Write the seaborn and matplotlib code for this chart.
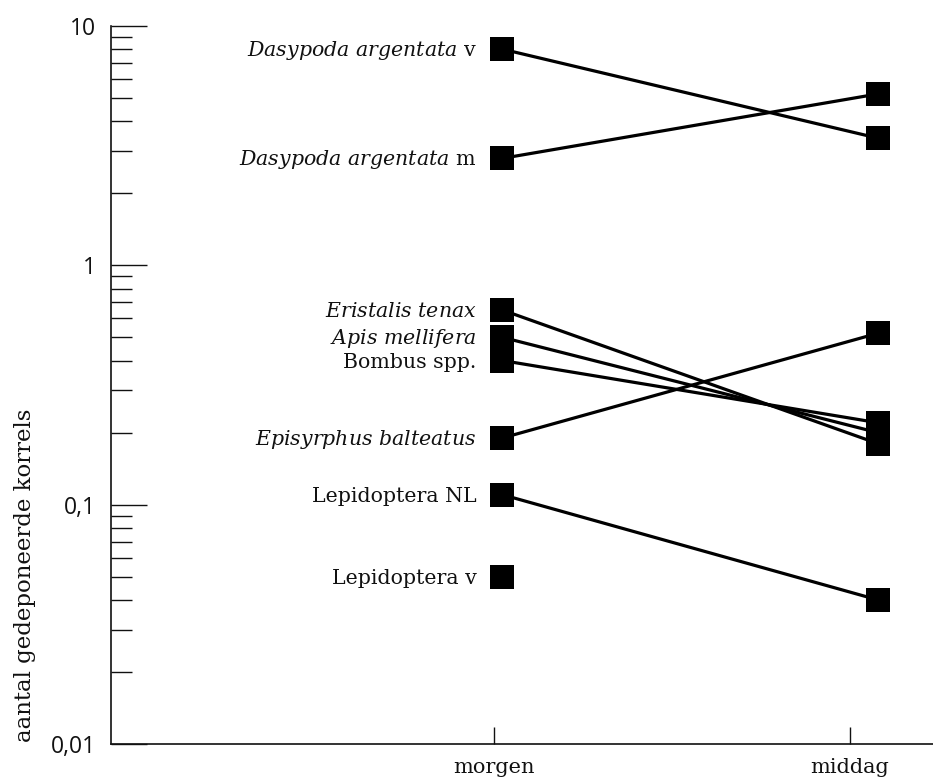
import numpy as np
import pandas as pd
import matplotlib
matplotlib.use("Agg")
import matplotlib.pyplot as plt
from matplotlib.ticker import FixedLocator, FixedFormatter, LogLocator, NullFormatter
import seaborn as sns

# Pollen grains deposited per visit, morning vs. afternoon
species = [
    "Dasypoda argentata v", "Dasypoda argentata m", "Eristalis tenax",
    "Apis mellifera", "Bombus spp.", "Episyrphus balteatus",
    "Lepidoptera NL", "Lepidoptera v",
]
species_labels = [
    r"$\mathit{Dasypoda\ argentata}$ v",
    r"$\mathit{Dasypoda\ argentata}$ m",
    r"$\mathit{Eristalis\ tenax}$",
    r"$\mathit{Apis\ mellifera}$",
    "Bombus spp.",
    r"$\mathit{Episyrphus\ balteatus}$",
    "Lepidoptera NL",
    "Lepidoptera v",
]
morgen = [8.0, 2.8, 0.65, 0.50, 0.40, 0.19, 0.11, 0.05]
middag = [3.4, 5.2, 0.18, 0.20, 0.22, 0.52, 0.04, np.nan]
periods = ["morgen", "middag"]
y_ticks = [0.01, 0.1, 1, 10]
y_tick_labels = ["0,01", "0,1", "1", "10"]
y_label = "aantal gedeponeerde korrels"

# long-format table for seaborn
period_index = {p: i for i, p in enumerate(periods)}
rows = []
for sp, m, a in zip(species, morgen, middag):
    for p, v in zip(periods, (m, a)):
        if not np.isnan(v):
            rows.append({"species": sp, "period": p, "pos": period_index[p], "value": v})
df = pd.DataFrame(rows)

sns.set_style("white")
plt.rcParams["mathtext.fontset"] = "custom"
plt.rcParams["mathtext.it"] = "DejaVu Serif:italic"
plt.rcParams["mathtext.rm"] = "DejaVu Serif"

fig = plt.figure(figsize=(9.33, 7.81), dpi=100)
ax = fig.add_axes([0.119, 0.0474, 0.881, 0.9193])

sns.lineplot(
    data=df, x="pos", y="value", units="species", estimator=None,
    sort=True, color="black", marker="s", markersize=17,
    markeredgewidth=0, linewidth=2.3, legend=False, ax=ax,
)

ax.set_yscale("log")
ax.set_ylim(0.01, 10)
ax.set_xlim(-1.043, 1.147)

# species names to the left of the morning markers
for label, value in zip(species_labels, morgen):
    ax.annotate(
        label, xy=(0, value), xytext=(-26, -7), textcoords="offset pixels",
        ha="right", va="baseline", fontsize=14.8, family="DejaVu Serif",
        color="#111111",
    )

# y axis: log scale with inward ticks
ax.yaxis.set_major_locator(FixedLocator(y_ticks))
ax.yaxis.set_major_formatter(FixedFormatter(y_tick_labels))
ax.yaxis.set_minor_locator(LogLocator(base=10, subs=np.arange(2, 10)))
ax.yaxis.set_minor_formatter(NullFormatter())
ax.tick_params(axis="y", which="major", left=True, direction="in", length=26,
               width=1.0, pad=11, labelsize=16.5, colors="#111111")
ax.tick_params(axis="y", which="minor", left=True, direction="in", length=15,
               width=1.0, colors="#111111")
for t in ax.get_yticklabels():
    t.set_family("Open Sans")

# x axis: category ticks
ax.set_xticks([-0.023, 0.926])
ax.set_xticklabels(periods, family="DejaVu Serif", fontsize=15)
ax.tick_params(axis="x", which="major", bottom=True, direction="in", length=12,
               width=1.0, pad=10, colors="#111111")
ax.xaxis.set_minor_locator(FixedLocator([]))
ax.set_xlabel("")

ax.set_ylabel(y_label, family="DejaVu Serif", fontsize=16.5, color="#111111",
              va="center")
ax.yaxis.set_label_coords(-0.105, 0.235)

for side in ("top", "right"):
    ax.spines[side].set_visible(False)
for side in ("left", "bottom"):
    ax.spines[side].set_linewidth(1.2)
    ax.spines[side].set_color("#111111")

fig.savefig("out.png", dpi=100, facecolor="white")
